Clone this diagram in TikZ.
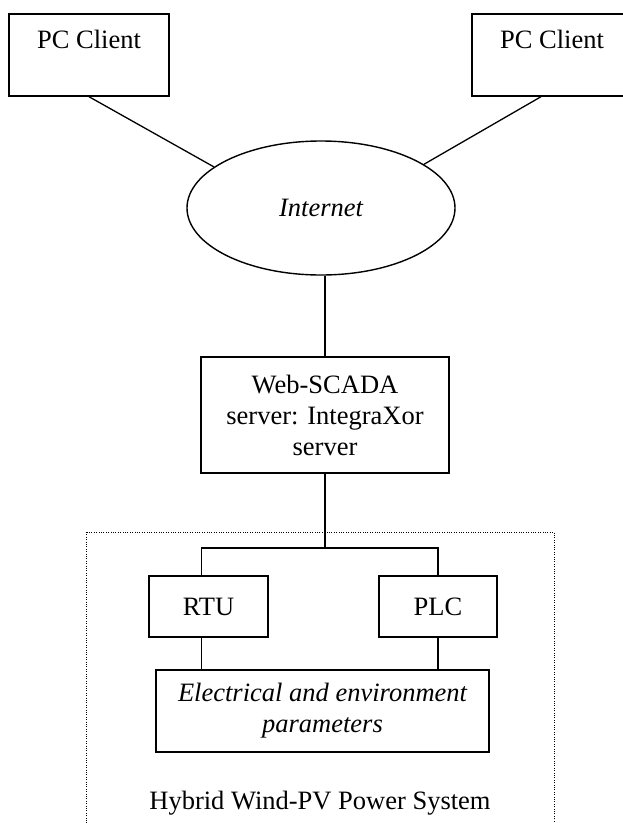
\documentclass[tikz,border=0pt]{standalone}
\usepackage{fontspec}
\setmainfont{Liberation Serif}
\usetikzlibrary{shapes.geometric, calc, positioning}

\begin{document}
\begin{tikzpicture}[x=1pt, y=-1pt,
                    txt/.style={font=\fontsize{26.5}{31}\selectfont, align=center, inner sep=0pt},
                    box/.style={txt, draw, line width=1.4pt},
                    link/.style={line width=1.3pt}]
                    \useasboundingbox (0, 0) rectangle (622, 823);

                    \node[box, minimum width=160, minimum height=82] (pcL) at (89, 55) {PC Client\\ \mbox{}};
                    \node[box, minimum width=160, minimum height=82] (pcR) at (552, 55) {PC Client\\ \mbox{}};
                    \node[box, ellipse, minimum width=268, minimum height=134] (inet) at (321, 208) {\itshape Internet};
                    \node[box, minimum width=248, minimum height=116] (web) at (325, 415) {Web-SCADA\\server: IntegraXor\\server};
                    \node[box, minimum width=119, minimum height=61] (rtu) at (208.5, 606.5) {RTU};
                    \node[box, minimum width=118, minimum height=61] (plc) at (438, 606.5) {PLC};
                    \node[box, minimum width=333, minimum height=82] (params) at (322.5, 711) {\itshape Electrical and environment\\\itshape parameters};
                    \node[txt] (hybrid) at (320, 803) {Hybrid Wind-PV Power System};

                    \coordinate (busL) at (201.5, 548);
                    \coordinate (busR) at (438, 548);

                    \draw[line width=0.9pt, dash pattern=on 1pt off 1.4pt] (86, 532) rectangle (554, 840);

                    \draw[link] (pcL.south) -- (inet.159);
                    \draw[link] ([xshift=-11pt]pcR.south) -- (inet.23);
                    \draw[link] (web.north |- inet.south) -- (web.north);
                    \draw[link] (web.south) -- (web.south |- busL);
                    \draw[link] (rtu.north -| busL) -- (busL) -- (busR) -- (plc.north);
                    \draw[link] (rtu.south -| busL) -- (params.north -| busL);
                    \draw[link] (plc.south) -- (params.north -| plc.south);
\end{tikzpicture}
\end{document}
